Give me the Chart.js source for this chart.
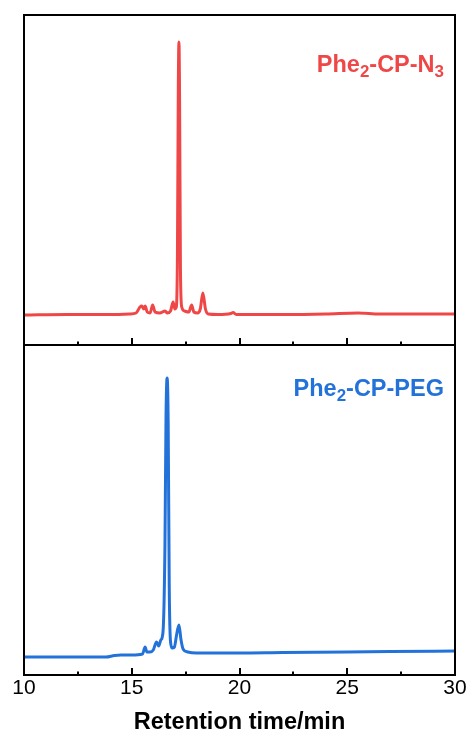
<!DOCTYPE html>
<html>
<head>
<meta charset="utf-8">
<script src="https://cdn.jsdelivr.net/npm/chart.js@4.4.1/dist/chart.umd.min.js"></script>
<style>
  html, body { margin: 0; padding: 0; background: #ffffff; }
  #wrap { position: relative; width: 471px; height: 745px; overflow: hidden; }
  canvas { position: absolute; left: 0; top: 0; }
  .lbl { position: absolute; font-family: "Liberation Sans", Arial, sans-serif; font-weight: bold;
         font-size: 23.5px; line-height: 26px; white-space: nowrap; }
  .lbl sub { font-size: 0.72em; vertical-align: -0.28em; line-height: 0; }
</style>
</head>
<body>
<div id="wrap">
  <canvas id="c1" width="471" height="745"></canvas>
  <canvas id="c2" width="471" height="745"></canvas>
  <div class="lbl" id="l1" style="right:27px; top:51px; color:#ef4747;">Phe<sub>2</sub>-CP-N<sub>3</sub></div>
  <div class="lbl" id="l2" style="right:27px; top:375px; color:#2372da;">Phe<sub>2</sub>-CP-PEG</div>
</div>
<script>
// ---- data ----
const redTime = [10, 12, 14, 14.9, 15.2, 15.38, 15.47, 15.55, 15.62, 15.72, 15.85, 15.97, 16.08, 16.3, 16.55, 16.65, 16.8, 16.92, 17.0, 17.07, 17.12, 17.16, 17.19, 17.22, 17.26, 17.32, 17.45, 17.65, 17.78, 17.88, 18.05, 18.18, 18.3, 18.42, 18.55, 19.0, 19.6, 19.7, 19.85, 22, 24, 25.5, 26.5, 28, 30];
const redSignal = [0, 0.5, 0.5, 1, 2, 8, 9, 6, 9, 3, 2, 10, 3, 2, 4, 2, 4, 13, 6, 8, 60, 225, 273, 215, 45, 8, 4, 3, 10, 3, 2, 6, 22, 6, 1, 0.5, 1.5, 2.5, 0.5, 0.5, 1, 2, 1, 1, 1];

const blueTime = [10, 12, 13.8, 14.2, 14.5, 15.0, 15.5, 15.62, 15.7, 15.85, 16.0, 16.15, 16.25, 16.35, 16.45, 16.54, 16.59, 16.64, 16.69, 16.74, 16.8, 16.88, 16.98, 17.08, 17.19, 17.28, 17.38, 17.6, 18.0, 19, 20, 22, 25, 27, 30];
const blueSignal = [0, 0, 0, 1.5, 2, 2, 3, 10, 5, 5, 7, 15, 11, 17, 25, 110, 240, 279, 235, 70, 15, 9, 10, 22, 32, 18, 8, 5, 4, 4, 4, 4.5, 5, 5.5, 6];

const xTickValues = [10, 15, 20, 25, 30];
const minorTickValues = [12.5, 17.5, 22.5, 27.5];
const seriesNames = ['Phe2-CP-N3', 'Phe2-CP-PEG'];
const xTitle = 'Retention time/min';

const toPoints = (xs, ys) => xs.map((x, i) => ({ x: x, y: ys[i] }));

const framePlugin = {
  id: 'frame',
  afterDatasetsDraw(chart) {
    const { ctx, chartArea: a, scales } = chart;
    const xs = scales.x;
    ctx.save();
    ctx.strokeStyle = '#000';
    ctx.lineWidth = 2;
    ctx.strokeRect(a.left, a.top, a.right - a.left, a.bottom - a.top);
    ctx.lineWidth = 2;
    ctx.beginPath();
    xTickValues.forEach(v => {
      const px = Math.round(xs.getPixelForValue(v));
      ctx.moveTo(px, a.bottom); ctx.lineTo(px, a.bottom - 7);
    });
    minorTickValues.forEach(v => {
      const px = Math.round(xs.getPixelForValue(v));
      ctx.moveTo(px, a.bottom); ctx.lineTo(px, a.bottom - 3.5);
    });
    ctx.stroke();
    ctx.restore();
  }
};

Chart.defaults.font.family = '"Liberation Sans", Arial, sans-serif';
Chart.defaults.color = '#000';

new Chart(document.getElementById('c1'), {
  type: 'line',
  data: { datasets: [{ label: seriesNames[0], data: toPoints(redTime, redSignal),
    borderColor: '#ef4747', borderWidth: 3, pointRadius: 0, cubicInterpolationMode: 'monotone', fill: false }] },
  options: {
    responsive: false, animation: false, devicePixelRatio: 1,
    layout: { padding: { left: 24, right: 16, top: 15, bottom: 400 } },
    plugins: { legend: { display: false }, tooltip: { enabled: false } },
    scales: {
      x: { type: 'linear', min: 10, max: 30, display: false },
      y: { min: -30, max: 300, display: false }
    }
  },
  plugins: [framePlugin]
});

new Chart(document.getElementById('c2'), {
  type: 'line',
  data: { datasets: [{ label: seriesNames[1], data: toPoints(blueTime, blueSignal),
    borderColor: '#2372da', borderWidth: 3, pointRadius: 0, cubicInterpolationMode: 'monotone', fill: false }] },
  options: {
    responsive: false, animation: false, devicePixelRatio: 1,
    layout: { padding: { left: 24, right: 16, top: 345, bottom: 0 } },
    plugins: { legend: { display: false }, tooltip: { enabled: false } },
    scales: {
      x: { type: 'linear', min: 10, max: 30,
        afterFit: s => { s.height = 70; },
        afterBuildTicks: s => { s.ticks = xTickValues.map(v => ({ value: v })); },
        grid: { display: false, drawTicks: false },
        border: { display: false },
        ticks: { padding: 1, font: { size: 21 }, color: '#000', maxRotation: 0 },
        title: { display: true, text: xTitle, font: { size: 23.5, weight: 'bold' }, color: '#000',
                 padding: { top: 0, bottom: 8 } }
      },
      y: { min: -18, max: 312, display: false }
    }
  },
  plugins: [framePlugin]
});
</script>
</body>
</html>
